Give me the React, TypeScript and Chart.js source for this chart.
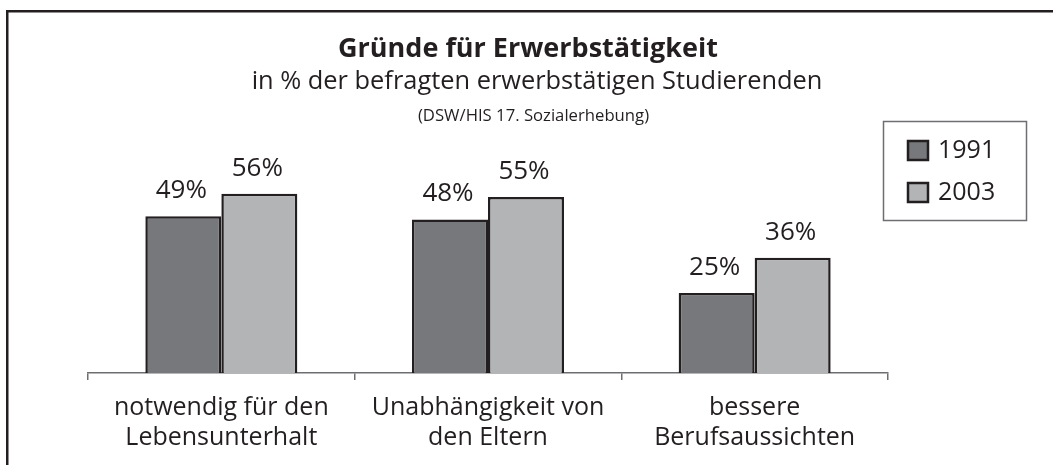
import React, { useEffect, useRef } from "react";
import { Chart, registerables } from "chart.js";

Chart.register(...registerables);

const categories: string[][] = [
  ["notwendig für den", "Lebensunterhalt"],
  ["Unabhängigkeit von", "den Eltern"],
  ["bessere", "Berufsaussichten"],
];
const seriesLabels = ["1991", "2003"];
const values1991 = [49, 48, 25];
const values2003 = [56, 55, 36];
const titleText = "Gründe für Erwerbstätigkeit";
const subtitleText = "in % der befragten erwerbstätigen Studierenden";
const sourceText = "(DSW/HIS 17. Sozialerhebung)";

const INK = "#231f20";
const FONT = '"Open Sans", "Noto Sans", sans-serif';
const COLOR_1991 = "#77787b";
const COLOR_2003 = "#b3b4b6";

const decorPlugin = {
  id: "decor",
  afterDraw(chart: any) {
    const ctx = chart.ctx as CanvasRenderingContext2D;
    ctx.save();
    // frame (top + left)
    ctx.strokeStyle = INK;
    ctx.lineWidth = 2.5;
    ctx.beginPath();
    ctx.moveTo(7.25, 465);
    ctx.lineTo(7.25, 11.25);
    ctx.lineTo(1053, 11.25);
    ctx.stroke();

    // titles
    ctx.fillStyle = INK;
    ctx.textAlign = "center";
    ctx.textBaseline = "alphabetic";
    ctx.font = `bold 27px ${FONT}`;
    ctx.fillText(titleText, 528, 57);
    ctx.font = `25.4px ${FONT}`;
    ctx.fillText(subtitleText, 537, 89);
    ctx.font = `16.7px ${FONT}`;
    ctx.fillText(sourceText, 533.5, 121);

    // data labels
    ctx.font = `26px ${FONT}`;
    chart.data.datasets.forEach((ds: any, i: number) => {
      const meta = chart.getDatasetMeta(i);
      meta.data.forEach((bar: any, j: number) => {
        ctx.fillText(`${ds.data[j]}%`, bar.x - 2, bar.y - 18);
      });
    });

    // legend box
    ctx.strokeStyle = "#6d6e71";
    ctx.lineWidth = 1.5;
    ctx.strokeRect(883.5, 121.5, 143, 99);
    ctx.font = `25px ${FONT}`;
    ctx.textAlign = "left";
    ctx.textBaseline = "middle";
    chart.data.datasets.forEach((ds: any, i: number) => {
      const y = 140 + i * 42;
      ctx.fillStyle = ds.backgroundColor;
      ctx.fillRect(908, y + 1, 20, 19);
      ctx.strokeStyle = INK;
      ctx.lineWidth = 2.5;
      ctx.strokeRect(908, y + 1, 20, 19);
      ctx.fillStyle = INK;
      ctx.fillText(ds.label, 938, y + 11);
    });
    ctx.restore();
  },
};

export default function App() {
  const ref = useRef<HTMLCanvasElement>(null);
  useEffect(() => {
    if (!ref.current) return;
    const chart = new Chart(ref.current, {
      type: "bar",
      data: {
        labels: categories,
        datasets: [
          {
            label: seriesLabels[0],
            data: values1991,
            backgroundColor: COLOR_1991,
            borderColor: INK,
            borderWidth: 2.5,
            categoryPercentage: 0.57,
            barPercentage: 1,
          },
          {
            label: seriesLabels[1],
            data: values2003,
            backgroundColor: COLOR_2003,
            borderColor: INK,
            borderWidth: 2.5,
            categoryPercentage: 0.57,
            barPercentage: 1,
          },
        ],
      },
      options: {
        responsive: false,
        animation: false,
        layout: { padding: { left: 88, right: 165, top: 53, bottom: 0 } },
        plugins: {
          legend: { display: false },
          title: { display: false },
          tooltip: { enabled: false },
        },
        scales: {
          x: {
            offset: true,
            afterFit: (scale: any) => {
              scale.height = 92;
            },
            grid: {
              offset: true,
              drawOnChartArea: false,
              drawTicks: true,
              tickLength: 7,
              color: "#6d6e71",
              lineWidth: 1.5,
            },
            border: { display: true, color: "#6d6e71", width: 1.5 },
            ticks: {
              color: INK,
              padding: 13,
              maxRotation: 0,
              autoSkip: false,
              font: { family: FONT, size: 25, lineHeight: 1.2 },
            },
          },
          y: {
            display: false,
            min: 0,
            max: 100,
          },
        },
      },
      plugins: [decorPlugin],
    });
    return () => chart.destroy();
  }, []);
  return (
    <div style={{ position: "absolute", left: 0, top: 0, width: 1053, height: 465, background: "#fff" }}>
      <canvas ref={ref} width={1053} height={465} style={{ display: "block" }} />
    </div>
  );
}
